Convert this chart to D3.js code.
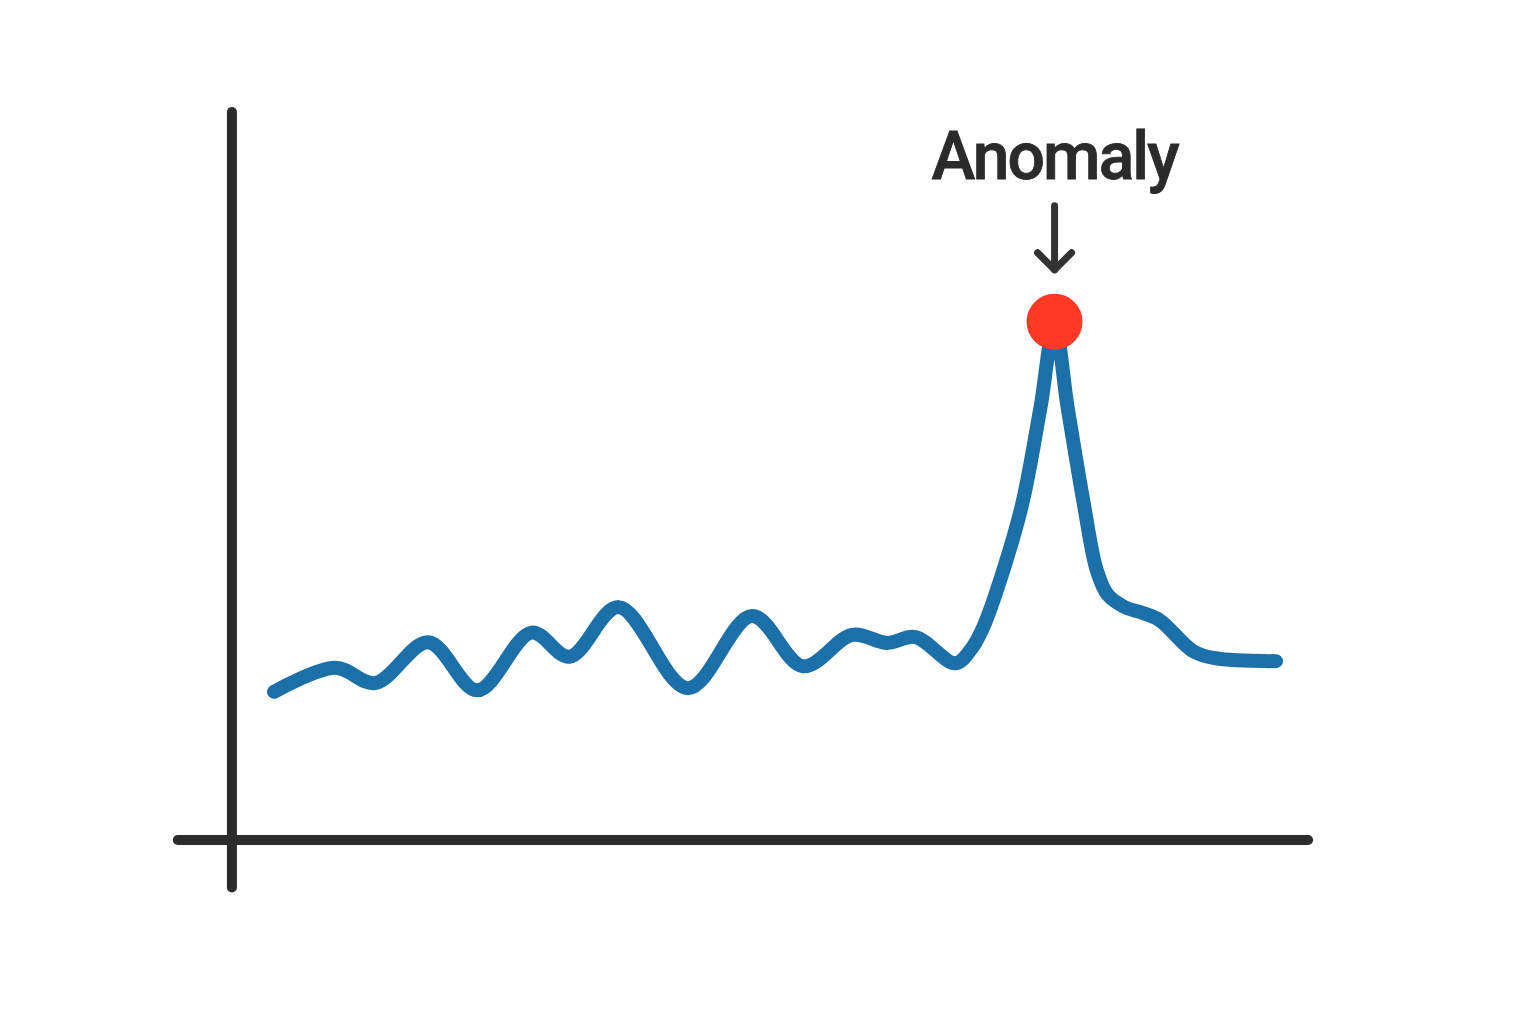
<!DOCTYPE html>
<html>
<head>
<meta charset="utf-8">
<script src="https://cdn.jsdelivr.net/npm/d3@7"></script>
<style>
  html, body { margin: 0; padding: 0; background: #ffffff; }
  svg { display: block; }
</style>
</head>
<body>
<svg id="chart" width="1536" height="1024"></svg>
<script>
// ---- data ----
const times = [0, 6.1, 10.1, 15.4, 20.3, 25.7, 29.5, 34.4, 41.3, 47.7, 52.8, 57.7, 61.2, 64.0, 68.0, 69.5, 70.8, 72.8, 74.7, 76.5, 77.9, 79.2, 80.8, 82.1, 83.2, 84.9, 86.7, 88.4, 91.7, 93.9, 100];
const values = [20.3, 23.6, 21.5, 27.1, 20.5, 28.4, 25.1, 31.9, 20.8, 30.7, 23.8, 28.1, 27.0, 27.8, 24.2, 26.0, 29.2, 37.0, 46.2, 59.3, 70.5, 59.3, 46.2, 37.0, 33.6, 31.9, 31.1, 30.1, 25.9, 24.9, 24.5];
const anomalyTimes = [77.9];
const anomalyValues = [71.0];
const annotationLabels = ["Anomaly"];

// ---- scales ----
const svg = d3.select("#chart");
const x = d3.scaleLinear().domain([0, 100]).range([274, 1276]);
const y = d3.scaleLinear().domain([0, 100]).range([840, 110]);

const axisColor = "#2b2b2b";

// axes (plain lines, no ticks)
const axisXpos = x(-4.2);
svg.append("line")
  .attr("x1", axisXpos).attr("x2", axisXpos)
  .attr("y1", y(100) + 2).attr("y2", y(-6.5))
  .attr("stroke", axisColor).attr("stroke-width", 10).attr("stroke-linecap", "round");
svg.append("line")
  .attr("x1", x(-9.6)).attr("x2", x(103.2))
  .attr("y1", y(0)).attr("y2", y(0))
  .attr("stroke", axisColor).attr("stroke-width", 10).attr("stroke-linecap", "round");

// series line
const data = times.map((t, i) => ({ t, v: values[i] }));
const line = d3.line()
  .x(d => x(d.t))
  .y(d => y(d.v))
  .curve(d3.curveCatmullRom.alpha(0.5));

svg.append("path")
  .datum(data)
  .attr("d", line)
  .attr("fill", "none")
  .attr("stroke", "#1b70aa")
  .attr("stroke-width", 14)
  .attr("stroke-linecap", "round")
  .attr("stroke-linejoin", "round");

// anomaly marker
anomalyTimes.forEach((t, k) => {
  const cx = x(t);
  const cy = y(anomalyValues[k]);
  svg.append("circle")
    .attr("cx", cx).attr("cy", cy).attr("r", 28)
    .attr("fill", "#ff3a24");

  // arrow
  const g = svg.append("g")
    .attr("fill", "none")
    .attr("stroke", "#333333")
    .attr("stroke-width", 7)
    .attr("stroke-linecap", "round")
    .attr("stroke-linejoin", "round");
  g.append("line")
    .attr("x1", cx).attr("x2", cx)
    .attr("y1", cy - 116).attr("y2", cy - 52);
  g.append("polyline")
    .attr("points", [[cx - 17, cy - 69], [cx, cy - 52], [cx + 17, cy - 69]].map(p => p.join(",")).join(" "));

  const txt = svg.append("text")
    .attr("x", cx + 1).attr("y", cy - 143)
    .attr("text-anchor", "middle")
    .attr("font-family", "Roboto, 'Noto Sans', sans-serif")
    .attr("font-weight", 500)
    .attr("font-size", 66)
    .attr("fill", "#2b2b2b")
    .attr("stroke", "#2b2b2b")
    .attr("stroke-width", 0.8)
    .text(annotationLabels[k]);
  const w = txt.node().getComputedTextLength();
  const target = 246;
  const n = annotationLabels[k].length;
  txt.attr("letter-spacing", ((target - w) / n).toFixed(2));
  txt.attr("x", cx + 1 + (target - w) / n / 2);
});
</script>
</body>
</html>
